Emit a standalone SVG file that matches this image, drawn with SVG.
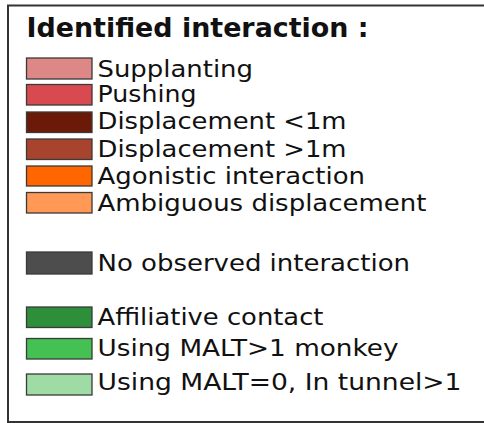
<svg xmlns="http://www.w3.org/2000/svg" width="484" height="423" viewBox="0 0 484 423">
<style>
.sw{stroke:#3a3a3a;stroke-width:1.3}
.lb{font-family:"DejaVu Sans",Verdana,sans-serif;font-size:23px;fill:#111}
.tt{font-family:"DejaVu Sans",Verdana,sans-serif;font-size:27px;font-weight:bold;fill:#111}
</style>
<rect width="484" height="423" fill="#fff"/>
<rect id="frame" x="8" y="5.5" width="484" height="416.5" fill="none" stroke="#333" stroke-width="2"/>
<g id="title"><text class="tt" x="26.5" y="37" textLength="342" lengthAdjust="spacingAndGlyphs">Identified interaction :</text></g>
<g id="supplanting"><rect class="sw" x="26.5" y="58" width="65.5" height="21" fill="#de8787"/><text class="lb" x="97.5" y="76.5" textLength="155.5" lengthAdjust="spacingAndGlyphs">Supplanting</text></g>
<g id="pushing"><rect class="sw" x="26.5" y="84.5" width="65.5" height="20.5" fill="#d84a50"/><text class="lb" x="97.5" y="101.5" textLength="99" lengthAdjust="spacingAndGlyphs">Pushing</text></g>
<g id="disp-lt"><rect class="sw" x="26.5" y="112" width="65.5" height="20.5" fill="#6b1a08"/><text class="lb" x="97.5" y="128.5" textLength="249" lengthAdjust="spacingAndGlyphs">Displacement &lt;1m</text></g>
<g id="disp-gt"><rect class="sw" x="26.5" y="139" width="65.5" height="20.5" fill="#a8442e"/><text class="lb" x="97.5" y="156.5" textLength="249" lengthAdjust="spacingAndGlyphs">Displacement &gt;1m</text></g>
<g id="agonistic"><rect class="sw" x="26.5" y="166" width="65.5" height="20" fill="#ff6600"/><text class="lb" x="97.5" y="184" textLength="267.5" lengthAdjust="spacingAndGlyphs">Agonistic interaction</text></g>
<g id="ambiguous"><rect class="sw" x="26.5" y="192.5" width="65.5" height="20.5" fill="#ff9955"/><text class="lb" x="97.5" y="210.7" textLength="329" lengthAdjust="spacingAndGlyphs">Ambiguous displacement</text></g>
<g id="none"><rect class="sw" x="26.5" y="252" width="65.5" height="22" fill="#4d4d4d"/><text class="lb" x="97.5" y="270.7" textLength="312.5" lengthAdjust="spacingAndGlyphs">No observed interaction</text></g>
<g id="affiliative"><rect class="sw" x="26.5" y="307" width="65.5" height="20.5" fill="#2e8f3a"/><text class="lb" x="97.5" y="325" textLength="226" lengthAdjust="spacingAndGlyphs">Affiliative contact</text></g>
<g id="malt1"><rect class="sw" x="26.5" y="338.5" width="65.5" height="20.5" fill="#44c152"/><text class="lb" x="97.5" y="356" textLength="301" lengthAdjust="spacingAndGlyphs">Using MALT&gt;1 monkey</text></g>
<g id="malt0"><rect class="sw" x="26.5" y="374" width="65.5" height="21" fill="#9fdba4"/><text class="lb" x="97.5" y="389.5" textLength="364" lengthAdjust="spacingAndGlyphs">Using MALT=0, In tunnel&gt;1</text></g>
<g id="connectors"/>
</svg>
